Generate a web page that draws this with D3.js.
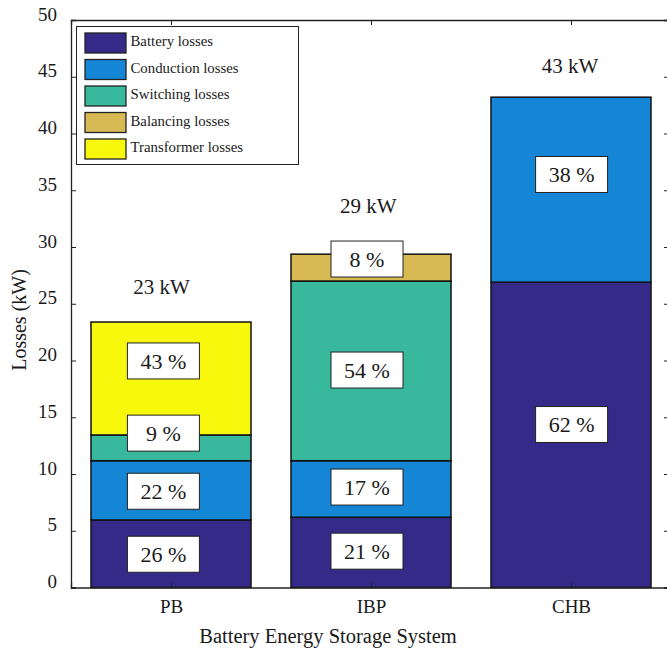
<!DOCTYPE html>
<html><head><meta charset="utf-8">
<script src="https://cdn.jsdelivr.net/npm/d3@7"></script>
<style>body{margin:0;background:#fff}svg{display:block}text{font-family:"Liberation Serif","Times New Roman",serif;fill:#1a1a1a}</style>
</head><body>
<svg id="c" width="667" height="652"></svg>
<script>
const categories = ["PB", "IBP", "CHB"];
const seriesNames = ["Battery losses", "Conduction losses", "Switching losses", "Balancing losses", "Transformer losses"];
const colors = ["#352a87", "#1585d5", "#38b89d", "#d8ba55", "#f7f80c"];
const battery     = [5.95, 6.19, 26.9];
const conduction  = [5.22, 4.98, 16.3];
const switching   = [2.27, 15.83, 0];
const balancing   = [0, 2.37, 0];
const transformer = [9.95, 0, 0];
const totalsText = ["23 kW", "29 kW", "43 kW"];
const totalsY = [26.5, 33.6, 46.0];
const totalsX = [0.953, 1.987, 2.995];
const labelX = [0.962, 1.98, 3.003];
// percentage labels: [category index, y value (kW), text]
const pctLabels = [
  [0, 2.93, "26 %"], [0, 8.48, "22 %"], [0, 13.6, "9 %"], [0, 19.96, "43 %"],
  [1, 3.2, "21 %"], [1, 8.85, "17 %"], [1, 19.16, "54 %"], [1, 28.94, "8 %"],
  [2, 14.36, "62 %"], [2, 36.39, "38 %"]
];
const yTicks = [0, 5, 10, 15, 20, 25, 30, 35, 40, 45, 50];

const svg = d3.select("#c");
const L = 71, R = 671, T = 20, B = 587.5;
const x = d3.scaleLinear().domain([0.5, 3.5]).range([L, R]);
const y = d3.scaleLinear().domain([0, 50]).range([B, T]);
const bw = (x(1) - x(0)) * 0.8;

const series = [battery, conduction, switching, balancing, transformer];
const stackData = categories.map((c, i) => {
  const o = {cat: c, i: i};
  seriesNames.forEach((s, k) => o[s] = series[k][i]);
  return o;
});
const stacked = d3.stack().keys(seriesNames)(stackData);

stacked.forEach((layer, k) => {
  svg.append("g").selectAll("rect").data(layer.filter(d => d[1] - d[0] > 0)).join("rect")
    .attr("x", d => x(d.data.i + 1) - bw / 2)
    .attr("width", bw)
    .attr("y", d => y(d[1]))
    .attr("height", d => y(d[0]) - y(d[1]))
    .attr("fill", colors[k])
    .attr("stroke", "#111").attr("stroke-width", 1.5);
});

// percentage label boxes
const lg = svg.append("g").selectAll("g").data(pctLabels).join("g")
  .attr("transform", d => `translate(${x(labelX[d[0]])},${y(d[1])})`);
lg.append("rect").attr("x", -36).attr("y", -18).attr("width", 72).attr("height", 36)
  .attr("fill", "#fff").attr("stroke", "#222").attr("stroke-width", 1);
lg.append("text").attr("text-anchor", "middle").attr("dy", "0.35em")
  .style("font-size", "22px").text(d => d[2]);

// totals
svg.append("g").selectAll("text").data(totalsText).join("text")
  .attr("x", (d, i) => x(totalsX[i]))
  .attr("y", (d, i) => y(totalsY[i]))
  .attr("dy", "0.35em").attr("text-anchor", "middle")
  .style("font-size", "21px").text(d => d);

// axes
const yAxis = d3.axisLeft(y).tickValues(yTicks).tickSize(-5).tickPadding(14).tickFormat(d3.format("d"));
const gy = svg.append("g").attr("transform", `translate(${L},0)`).call(yAxis);
gy.selectAll("text").style("font-size", "19px").attr("dy", "0.0em");
const yAxisR = d3.axisRight(y).tickValues(yTicks).tickSize(-7).tickFormat("");
svg.append("g").attr("transform", `translate(${R},0)`).call(yAxisR);
const xAxis = d3.axisBottom(x).tickValues([1, 2, 3]).tickSize(-5).tickPadding(12).tickFormat((d) => categories[d - 1]);
const gx = svg.append("g").attr("transform", `translate(0,${B})`).call(xAxis);
gx.selectAll("text").style("font-size", "19px");
const xAxisT = d3.axisTop(x).tickValues([1, 2, 3]).tickSize(-5).tickFormat("");
svg.append("g").attr("transform", `translate(0,${T})`).call(xAxisT);
svg.selectAll(".domain").attr("stroke", "#222").attr("stroke-width", 1.3);
svg.selectAll(".tick line").attr("stroke", "#222");

// axis titles
svg.append("text").attr("x", 328).attr("y", 643).attr("text-anchor", "middle")
  .style("font-size", "20.5px").text("Battery Energy Storage System");
svg.append("text").attr("transform", "translate(26,320) rotate(-90)").attr("text-anchor", "middle")
  .style("font-size", "20px").text("Losses (kW)");

// legend
const leg = svg.append("g");
leg.append("rect").attr("x", 76.5).attr("y", 26.5).attr("width", 222).attr("height", 138)
  .attr("fill", "#fff").attr("stroke", "#222").attr("stroke-width", 1);
const li = leg.selectAll("g.item").data(seriesNames).join("g").attr("class", "item")
  .attr("transform", (d, i) => `translate(85,${33 + i * 26.5})`);
li.append("rect").attr("width", 41).attr("height", 20)
  .attr("fill", (d, i) => colors[i]).attr("stroke", "#222").attr("stroke-width", 1.3);
li.append("text").attr("x", 45.5).attr("y", 8).attr("dy", "0.35em")
  .style("font-size", "14.8px").text(d => d);
</script>
</body></html>
